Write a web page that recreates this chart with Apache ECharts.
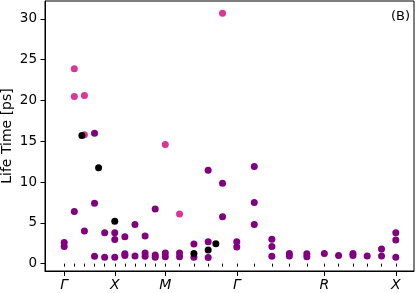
<!DOCTYPE html>
<html>
<head>
<meta charset="utf-8">
<script src="https://cdn.jsdelivr.net/npm/echarts@6/dist/echarts.min.js"></script>
<style>
html, body { margin: 0; padding: 0; background: #fff; }
#chart { width: 416px; height: 293px; }
</style>
</head>
<body>
<div id="chart"></div>
<script>
// k-path positions (Γ-X-M-Γ-R-X)
const kPoints = [0, 0.1, 0.2, 0.3, 0.4, 0.5, 0.6, 0.7, 0.8, 0.9, 1.0,
    1.141, 1.283, 1.424, 1.566, 1.707, 1.880, 2.054, 2.227, 2.400, 2.573,
    2.714, 2.856, 2.997, 3.139, 3.280]
const symPoints = [0, 0.5, 1.0, 1.707, 2.573, 3.280]
const symLabels = ['Γ', 'X', 'M', 'Γ', 'R', 'X']
const yTicks = [0, 5, 10, 15, 20, 25, 30]

const purplePoints = [
    [0, 2.6], [0, 2.1],
    [0.1, 6.4],
    [0.2, 4.0],
    [0.3, 16.0], [0.3, 7.4], [0.3, 0.9],
    [0.4, 3.8], [0.4, 0.8],
    [0.5, 3.8], [0.5, 2.95], [0.5, 0.8],
    [0.6, 3.3], [0.6, 1.2], [0.6, 1.0],
    [0.7, 4.8], [0.7, 0.95],
    [0.8, 3.4], [0.8, 1.3], [0.8, 0.9],
    [0.9, 6.7], [0.9, 1.05], [0.9, 0.8],
    [1.0, 1.3], [1.0, 0.85],
    [1.141, 1.3], [1.141, 0.85],
    [1.283, 2.4], [1.283, 0.8],
    [1.424, 11.45], [1.424, 2.7], [1.424, 0.75],
    [1.566, 9.85], [1.566, 5.75],
    [1.707, 2.7], [1.707, 2.05],
    [1.880, 11.9], [1.880, 7.5], [1.880, 4.8],
    [2.054, 3.0], [2.054, 2.1], [2.054, 0.9],
    [2.227, 1.25], [2.227, 0.95],
    [2.400, 1.2], [2.400, 0.85],
    [2.573, 1.25],
    [2.714, 1.0],
    [2.856, 1.25], [2.856, 1.0],
    [2.997, 0.95],
    [3.139, 1.8], [3.139, 0.95],
    [3.280, 3.8], [3.280, 2.9], [3.280, 0.8]
]
const pinkPoints = [
    [0.1, 23.9], [0.1, 20.5], [0.2, 20.6], [0.2, 15.8],
    [1.0, 14.6], [1.141, 6.1], [1.566, 30.7]
]
const blackPoints = [
    [0.175, 15.7], [0.34, 11.75], [0.5, 5.2],
    [1.283, 1.25], [1.424, 1.66], [1.50, 2.45]
]

let chart = echarts.init(document.getElementById('chart'))

let font = 'DejaVu Sans'
let option = {
    animation: false,
    grid: {
        left: 45,
        right: 2,
        top: 1,
        bottom: 22,
        containLabel: false,
        outerBoundsMode: 'none',
        show: true,
        borderColor: '#000',
        borderWidth: 1
    },
    graphic: [{
        type: 'text',
        right: 6,
        top: 10,
        style: { text: '(B)', font: '13px DejaVu Sans', fill: '#000' }
    }],
    xAxis: [{
        type: 'value',
        min: -0.19,
        max: 3.46,
        position: 'bottom',
        axisLine: { show: true, onZero: false, lineStyle: { color: '#000', width: 1 } },
        axisTick: { show: true, customValues: symPoints, length: 5, lineStyle: { color: '#000' } },
        axisLabel: {
            customValues: symPoints,
            margin: 7,
            fontSize: 14,
            fontStyle: 'italic',
            fontFamily: font,
            color: '#000',
            formatter: v => {
                let i = symPoints.findIndex(p => Math.abs(p - v) < 1e-6)
                return i >= 0 ? symLabels[i] : ''
            }
        },
        splitLine: { show: false }
    }, {
        type: 'value',
        min: -0.19,
        max: 3.46,
        position: 'bottom',
        axisLine: { show: false },
        axisTick: { show: true, customValues: kPoints, length: 3, lineStyle: { color: '#000' } },
        axisLabel: { show: false },
        splitLine: { show: false }
    }],
    yAxis: {
        type: 'value',
        min: -0.9,
        max: 32.2,
        name: 'Life Time [ps]',
        nameLocation: 'middle',
        nameGap: 31,
        nameMoveOverlap: false,
        nameTextStyle: { fontSize: 14, fontFamily: font, color: '#000' },
        axisLine: { show: true, onZero: false, lineStyle: { color: '#000', width: 1 } },
        axisTick: { show: true, customValues: yTicks, length: 4.5, lineStyle: { color: '#000' } },
        axisLabel: {
            customValues: yTicks,
            margin: 8,
            fontSize: 13.5,
            fontFamily: font,
            color: '#000'
        },
        splitLine: { show: false }
    },
    series: [{
        name: 'purple',
        type: 'scatter',
        symbolSize: 7,
        itemStyle: { color: '#800080', opacity: 1 },
        data: purplePoints
    }, {
        name: 'pink',
        type: 'scatter',
        symbolSize: 7,
        itemStyle: { color: '#dd3497', opacity: 1 },
        data: pinkPoints
    }, {
        name: 'black',
        type: 'scatter',
        symbolSize: 7,
        itemStyle: { color: '#000', opacity: 1 },
        data: blackPoints
    }]
}
chart.setOption(option)
</script>
</body>
</html>
